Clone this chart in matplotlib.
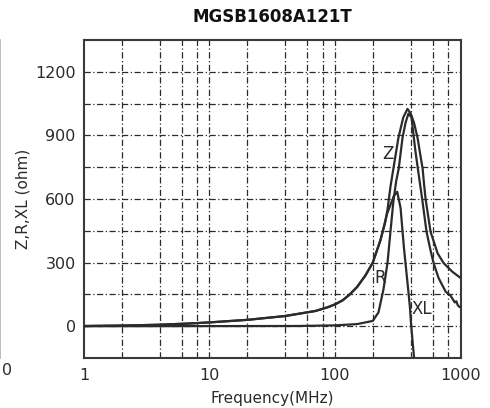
import numpy as np
import matplotlib.pyplot as plt
from matplotlib.lines import Line2D

# readings (MHz, ohm)
z_freq = [1, 2, 4, 7, 10, 20, 40, 70, 88, 100, 115, 130, 150, 175, 200, 230, 250,
          262, 277, 292, 320, 350, 378, 400, 426, 455, 476, 499, 512, 527, 577, 657,
          733, 865, 1000]
z_ohm = [1, 3, 7, 13, 18, 30, 48, 72, 90, 103, 122, 148, 185, 240, 300, 405, 485,
         550, 660, 744, 888, 985, 1025, 1005, 960, 888, 816, 744, 672, 600, 446, 344,
         298, 256, 228]

r_freq = [1, 50, 100, 150, 200, 222, 243, 262, 277, 292, 307, 322, 345, 365, 385,
          407, 425, 438, 457, 495, 536, 577, 610, 668, 761, 834, 870, 900, 925, 950,
          975, 1000]
r_ohm = [0, 1, 4, 10, 25, 65, 172, 298, 450, 590, 683, 744, 888, 960, 1003,
         985, 888, 823, 744, 600, 446, 358, 298, 228, 163, 144, 126, 112, 118, 100,
         92, 90]

xl_freq = [1, 2, 4, 7, 10, 20, 40, 70, 88, 100, 115, 130, 150, 175, 200, 230, 260,
           294, 313, 333, 354, 376, 395, 405, 425, 445]
xl_ohm = [1, 3, 7, 13, 18, 30, 48, 72, 90, 103, 122, 148, 185, 240, 300, 405, 530,
          614, 634, 558, 372, 219, 93, 0, -139, -300]

x_grid = [2, 4, 6, 8, 10, 20, 40, 60, 80, 100, 200, 400, 600, 800]
y_grid = [0, 150, 300, 450, 600, 750, 900, 1050, 1200]
y_ticks = [0, 300, 600, 900, 1200]
x_ticks = [1, 10, 100, 1000]

plt.rcParams['font.family'] = 'DejaVu Sans'

fig = plt.figure(figsize=(4.9, 4.08), dpi=100)
ax = fig.add_axes([0.1714, 0.1225, 0.7684, 0.7795])

ink = '#2b2b2b'
for g in x_grid:
    ax.axvline(g, color=ink, lw=0.9, ls=(0, (5, 2, 1, 2)), zorder=1)
for g in y_grid:
    ax.axhline(g, color=ink, lw=0.9, ls=(0, (5, 2, 1, 2)), zorder=1)

ax.plot(z_freq, z_ohm, color=ink, lw=1.6, zorder=3)
ax.plot(r_freq, r_ohm, color=ink, lw=1.6, zorder=3)
ax.plot(xl_freq, xl_ohm, color=ink, lw=1.6, zorder=3)

ax.text(262, 812, 'Z', fontsize=12, color=ink, ha='center', va='center')
ax.text(230, 227, 'R', fontsize=12, color=ink, ha='center', va='center')
ax.text(489, 81, 'XL', fontsize=12, color=ink, ha='center', va='center')

ax.set_xscale('log')
ax.set_xlim(1, 1000)
ax.set_ylim(-150, 1350)
ax.set_xticks(x_ticks)
ax.set_xticklabels([str(t) for t in x_ticks])
ax.set_xticks([], minor=True)
ax.set_yticks(y_ticks)
ax.tick_params(length=0, labelsize=11.5, colors=ink)
ax.tick_params(axis='x', pad=7)
ax.tick_params(axis='y', pad=6)
for s in ax.spines.values():
    s.set_color('#3a3a3a')
    s.set_linewidth(1.5)

ax.set_title('MGSB1608A121T', fontsize=12, fontweight='bold', color='#111111', pad=13)
ax.set_xlabel('Frequency(MHz)', fontsize=11, color=ink, labelpad=6)
ax.set_ylabel('Z,R,XL (ohm)', fontsize=11, color=ink, labelpad=3)

# edge of the neighbouring chart in the scan
fig.add_artist(Line2D([0.001, 0.001], [0.1225, 0.902], color='#b0b0b0', lw=1.2))
fig.text(0.005, 0.093, '0', fontsize=11.5, color=ink, ha='left', va='center')

fig.savefig('out.png', dpi=100)
